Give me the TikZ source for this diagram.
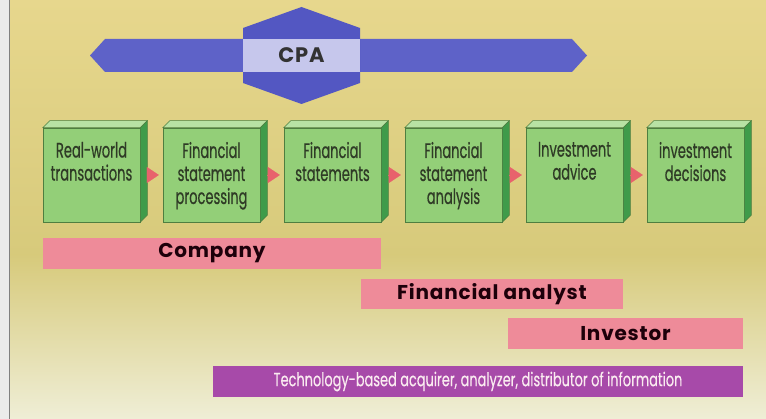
\documentclass[tikz,border=0pt]{standalone}
\usepackage{fontspec}
\usetikzlibrary{arrows.meta}

\newfontfamily\stagefont[FakeStretch=0.62,FakeBold=0.5]{Poppins}
\newfontfamily\techfont[FakeStretch=0.68,FakeBold=0.3]{Poppins}
\newfontfamily\rolefont[LetterSpace=4]{Poppins}

\definecolor{bgtop}{HTML}{E7D78D}
\definecolor{bgmid}{HTML}{D7CA7B}
\definecolor{bgbot}{HTML}{EFEED6}
\definecolor{cpablue}{HTML}{5E62C8}
\definecolor{cpahex}{HTML}{5357C2}
\definecolor{cpalight}{HTML}{C6C7EC}
\definecolor{boxfront}{HTML}{93CF78}
\definecolor{boxtop}{HTML}{B8E2A4}
\definecolor{boxside}{HTML}{3F9B4A}
\definecolor{boxline}{HTML}{4E7E40}
\definecolor{boxtext}{HTML}{2F3B26}
\definecolor{tipred}{HTML}{E8626C}
\definecolor{rolepink}{HTML}{EE8B99}
\definecolor{techpurple}{HTML}{A74AA9}

\tikzset{
    stagebox/.style={draw=boxline, line width=0.5pt, fill=boxfront, inner sep=0pt,
        minimum width=97pt, minimum height=94pt, text=boxtext},
    flowtip/.style={draw=tipred, line width=0.1pt,
        -{Triangle[length=12pt,width=16pt,fill=tipred]}},
    rolebar/.style={fill=rolepink, inner sep=0pt, minimum height=31pt,
        text=black!85!purple, font=\rolefont\bfseries\fontsize{20}{22}\selectfont},
}

\begin{document}
\begin{tikzpicture}[x=1pt,y=-1pt]
\useasboundingbox (0,0) rectangle (766,419);

% fond
\fill[black!8] (0,0) rectangle (10,419);
\shade[top color=bgtop, bottom color=bgmid] (10,0) rectangle (766,255);
\shade[top color=bgmid, bottom color=bgbot] (10,255) rectangle (766,419);
\draw[black!50, line width=1.2pt] (9.5,0) -- (9.5,419);

% bandeau CPA
\fill[cpablue] (90,55.5) -- (105,39) -- (572,39) -- (587,55.5) -- (572,72) -- (105,72) -- cycle;
\fill[cpahex] (243,28) -- (301.5,7) -- (360,28) -- (360,83) -- (301.5,104) -- (243,83) -- cycle;
\node[fill=cpalight, inner sep=0pt, minimum width=117pt, minimum height=33pt,
    font=\rolefont\bfseries\fontsize{21}{23}\selectfont, text=black!80] (cpa) at (301.5,55.5) {CPA};

% les six etapes
\foreach \n/\x/\txt in {%
    1/91.5/{Real-world\\transactions},%
    2/211.5/{Financial\\statement\\processing},%
    3/332.5/{Financial\\statements},%
    4/453.5/{Financial\\statement\\analysis},%
    5/574.5/{Investment\\advice},%
    6/695.5/{investment\\decisions}%
}{
    \node[stagebox] (b\n) at (\x,175)
        {\parbox[c][66pt][t]{95pt}{\centering\stagefont\fontsize{21}{23}\selectfont\txt}};
    % dessus et cote droit
    \draw[boxline, line width=0.5pt, fill=boxtop] (b\n.north west) -- ++(7,-7)
        -- ([shift={(7,-7)}]b\n.north east) -- (b\n.north east) -- cycle;
    \draw[boxline, line width=0.5pt, fill=boxside] (b\n.north east) -- ++(7,-7)
        -- ([shift={(7,-7)}]b\n.south east) -- (b\n.south east) -- cycle;
}

% fleches entre les etapes
\foreach \i [evaluate=\i as \j using int(\i+1)] in {1,...,5}
    \draw[flowtip] ([xshift=7pt]b\i.east) -- ([xshift=-4pt]b\j.west);

% acteurs
\node[rolebar, minimum width=338pt] (company) at (212,253.5) {Company};
\node[rolebar, minimum width=262pt, minimum height=30pt] (analyst) at (492,294) {Financial analyst};
\node[rolebar, minimum width=235pt] (investor) at (625.5,333.5) {Investor};
\node[fill=techpurple, inner sep=0pt, minimum width=530pt, minimum height=31pt,
    text=white!92!purple, font=\techfont\fontsize{19}{21}\selectfont] (tech) at (478,381.5)
    {Technology-based acquirer, analyzer, distributor of information};

\end{tikzpicture}
\end{document}
